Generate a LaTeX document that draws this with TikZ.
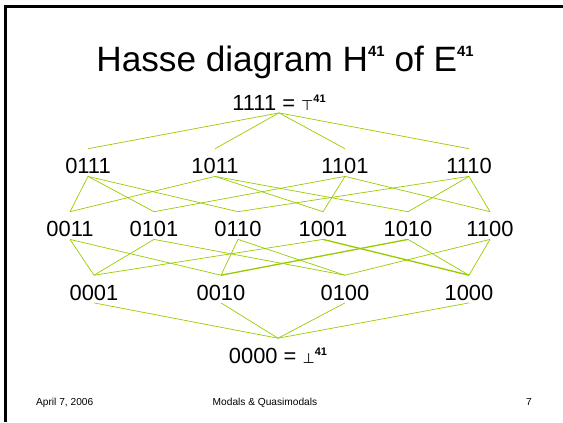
\documentclass[tikz,border=0pt]{standalone}
\usepackage{fontspec}
\setmainfont{Liberation Sans}
\newfontfamily\symfont{DejaVu Sans}
\usetikzlibrary{positioning}
\definecolor{HasseGreen}{RGB}{153,204,0}
\newcommand{\powidx}[2]{\raisebox{#2}{\fontsize{#1}{#1}\selectfont\bfseries 41}}

\begin{document}
\begin{tikzpicture}[x=1.2789pt,y=-1.2789pt,
    elem/.style={font=\fontsize{28}{30}\selectfont,inner xsep=0pt,inner ysep=3.5pt,
                 text height=28pt,text depth=0pt,anchor=base},
    edge/.style={HasseGreen,line width=0.9pt},
    dbledge/.style={edge,line width=1.7pt},
    foot/.style={font=\fontsize{13}{15}\selectfont,anchor=base,inner sep=0pt}
  ]
  \useasboundingbox (0,0) rectangle (563,422);
  \draw[line width=3.8pt] (5.5,422) -- (5.5,6.5) -- (563,6.5);

  \node[anchor=base,font=\fontsize{45}{48}\selectfont,inner sep=0pt] (title) at (285,71)
    {Hasse diagram H\powidx{19}{19pt} of E\powidx{19}{19pt}};

  \node[elem] (top) at (279,110) {1111 = {\symfont\fontsize{18}{18}\selectfont ⊤}\powidx{14}{10pt}};
  % rank 3
  \node[elem] (n0111) at (88,173.5) {0111};
  \node[elem] (n1011) at (215,173.5) {1011};
  \node[elem] (n1101) at (345,173.5) {1101};
  \node[elem] (n1110) at (469,173.5) {1110};
  % rank 2
  \node[elem] (n0011) at (70,236.5) {0011};
  \node[elem] (n0101) at (154,236.5) {0101};
  \node[elem] (n0110) at (238,236.5) {0110};
  \node[elem] (n1001) at (323,236.5) {1001};
  \node[elem] (n1010) at (408,236.5) {1010};
  \node[elem] (n1100) at (490,236.5) {1100};
  % rank 1
  \node[elem] (n0001) at (94,300) {0001};
  \node[elem] (n0010) at (221,300) {0010};
  \node[elem] (n0100) at (345,300) {0100};
  \node[elem] (n1000) at (469,300) {1000};
  \node[elem] (bot) at (278,363) {0000 = {\symfont\fontsize{18}{18}\selectfont ⊥}\powidx{14}{10pt}};

  \draw[edge] (top.south) -- (n0111.north);
  \draw[edge] (top.south) -- (n1011.north);
  \draw[edge] (top.south) -- (n1101.north);
  \draw[edge] (top.south) -- (n1110.north);

  \draw[edge] (n0111.south) -- (n0011.north);
  \draw[edge] (n0111.south) -- (n0101.north);
  \draw[edge] (n0111.south) -- (n0110.north);
  \draw[edge] (n1011.south) -- (n0011.north);
  \draw[edge] (n1011.south) -- (n1001.north);
  \draw[edge] (n1011.south) -- (n1010.north);
  \draw[edge] (n1101.south) -- (n0101.north);
  \draw[edge] (n1101.south) -- (n1001.north);
  \draw[edge] (n1101.south) -- (n1100.north);
  \draw[edge] (n1110.south) -- (n0110.north);
  \draw[edge] (n1110.south) -- (n1010.north);
  \draw[edge] (n1110.south) -- (n1100.north);

  \draw[edge] (n0011.south) -- (n0001.north);
  \draw[edge] (n0011.south) -- (n0010.north);
  \draw[edge] (n0101.south) -- (n0001.north);
  \draw[edge] (n0101.south) -- (n0100.north);
  \draw[edge] (n0110.south) -- (n0010.north);
  \draw[edge] (n0110.south) -- (n0100.north);
  \draw[edge] (n1001.south) -- (n0001.north);
  \draw[dbledge] (n1001.south) -- (n1000.north);
  \draw[dbledge] (n1010.south) -- (n0010.north);
  \draw[edge] (n1010.south) -- (n1000.north);
  \draw[edge] (n1100.south) -- (n0100.north);
  \draw[edge] (n1100.south) -- (n1000.north);

  \draw[edge] (n0001.south) -- (bot.north);
  \draw[edge] (n0010.south) -- (bot.north);
  \draw[edge] (n0100.south) -- (bot.north);
  \draw[edge] (n1000.south) -- (bot.north);

  \node[foot,anchor=base west] (date) at (36,405) {April 7, 2006};
  \node[foot] (talk) at (265,405) {Modals \& Quasimodals};
  \node[foot,anchor=base east] (page) at (532,405) {7};
\end{tikzpicture}
\end{document}
